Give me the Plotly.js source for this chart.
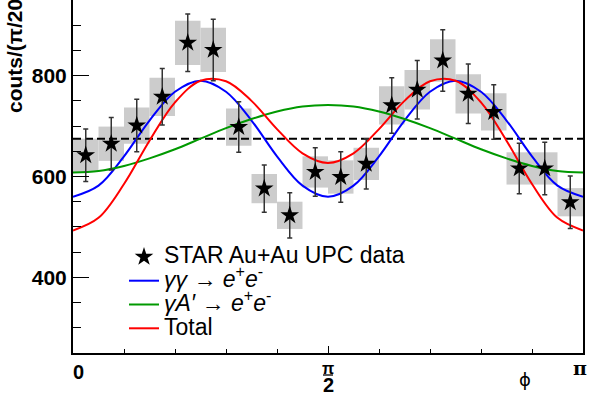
<!DOCTYPE html>
<html>
<head>
<meta charset="utf-8">
<script src="https://cdn.plot.ly/plotly-3.0.1.min.js"></script>
<style>
  html, body { margin: 0; padding: 0; background: #fff; }
  #chart { width: 589px; height: 402px; }
</style>
</head>
<body>
<div id="chart"></div>
<script>
// ---- data ----
const nBins = 20;
const binIndex = [0,1,2,3,4,5,6,7,8,9,10,11,12,13,14,15,16,17,18,19];
const counts   = [642,665,701,758,865,851,698,576,523,609,599,625,741,772,830,764,728,616,616,549];
const statErr  = [52,52,52,56,57,61,50,47,45,48,50,50,55,58,61,59,54,50,52,52];
const sysErr   = [33,34,36,38,44,44,37,29,27,31,33,32,38,39,42,39,37,32,32,28];

const gridIndex = [0,1,2,3,4,5,6,7,8,9,10,11,12,13,14,15,16,17,18,19,20];
const gammaGamma = [560,582,640,711,768,790,768,711,640,582,560,582,640,711,768,790,768,711,640,582,560];
const gammaAprime = [608,611,621,636,654,675,696,714,729,739,742,739,729,714,696,675,654,636,621,611,608];
const totalCurve = [493,518,585,671,747,790,789,750,694,646,627,646,694,750,789,790,747,671,585,518,493];
const flatLevel = [675, 675];
const flatEnds = [0, Math.PI];

const yTickLabels = ['400', '600', '800'];

// ---- derived positions through the axis scale ----
const binW = Math.PI / nBins;
const binCenters = binIndex.map(i => (i + 0.5) * binW);
const gridX = gridIndex.map(k => k * binW);
const boxBase = counts.map((c, i) => c - sysErr[i]);
const boxHeight = sysErr.map(s => 2 * s);

const FONT = 'Liberation Sans, Arial, Helvetica, sans-serif';

const traces = [
  {
    type: 'bar', x: binCenters, y: boxHeight, base: boxBase, width: binW,
    marker: { color: '#cccccc', line: { width: 0 } },
    showlegend: false, hoverinfo: 'skip'
  },
  {
    type: 'scatter', mode: 'lines', x: flatEnds, y: flatLevel,
    line: { color: '#000000', width: 2, dash: '8px,4px' },
    showlegend: false, hoverinfo: 'skip'
  },
  {
    type: 'scatter', mode: 'lines', x: gridX, y: gammaGamma,
    name: '<span style="font-size:23px"><i>γγ</i> → <i>e</i><sup>+</sup><i>e</i><sup>-</sup></span>',
    line: { color: '#0000ff', width: 2, shape: 'spline', smoothing: 1 },
    legendrank: 2
  },
  {
    type: 'scatter', mode: 'lines', x: gridX, y: gammaAprime,
    name: '<span style="font-size:23px"><i>γA′</i> → <i>e</i><sup>+</sup><i>e</i><sup>-</sup></span>',
    line: { color: '#009900', width: 2, shape: 'spline', smoothing: 1 },
    legendrank: 3
  },
  {
    type: 'scatter', mode: 'lines', x: gridX, y: totalCurve,
    name: '<span style="font-size:23px">Total</span>',
    line: { color: '#ff0000', width: 2, shape: 'spline', smoothing: 1 },
    legendrank: 4
  },
  {
    type: 'scatter', mode: 'markers', x: binCenters, y: counts,
    name: '<span style="font-size:23px">STAR Au+Au UPC data</span>',
    marker: { symbol: 'star', size: 14, color: '#000000', line: { width: 0 } },
    error_y: { type: 'data', array: statErr, visible: true, color: '#333333', thickness: 1.5, width: 2.5 },
    legendrank: 1
  }
];

const H = 353; // plot height in px (t=0, b=49)
const py = p => (H - p) / H;

const layout = {
  width: 589, height: 402,
  margin: { l: 73, r: 6, t: 0, b: 49 },
  paper_bgcolor: '#ffffff', plot_bgcolor: '#ffffff',
  font: { family: FONT, color: '#000000' },
  barmode: 'overlay',
  showlegend: true,
  legend: {
    x: (124 - 73) / 510, xanchor: 'left',
    y: py(240), yanchor: 'top',
    bgcolor: 'rgba(0,0,0,0)', borderwidth: 0,
    font: { family: FONT, size: 16, color: '#000000' },
    traceorder: 'normal'
  },
  xaxis: {
    range: [0, Math.PI], showgrid: false, zeroline: false,
    showline: true, linecolor: '#000000', linewidth: 2, mirror: true,
    ticks: 'inside', tickmode: 'array', tickvals: [0, Math.PI / 2, Math.PI],
    ticklen: 7, tickwidth: 1, tickcolor: '#000000',
    showticklabels: false,
    minor: { tickmode: 'array', tickvals: [1,2,3,4,6,7,8,9].map(k => k * Math.PI / 10), ticklen: 4.5, tickwidth: 1, tickcolor: '#000000', ticks: 'inside' }
  },
  yaxis: {
    range: [250, 950], showgrid: false, zeroline: false,
    showline: true, linecolor: '#000000', linewidth: 2, mirror: true,
    ticks: 'inside', tickmode: 'array', tickvals: [400, 600, 800], ticktext: yTickLabels,
    ticklen: 16, tickwidth: 1, tickcolor: '#000000',
    tickfont: { family: FONT, size: 21, weight: 'bold', color: '#000000' },
    minor: { dtick: 50, tick0: 0, ticklen: 8, tickwidth: 1, tickcolor: '#000000', ticks: 'inside' }
  },
  annotations: [
    { xref: 'x', yref: 'paper', x: 0, y: py(372), xshift: 5, text: '<b>0</b>', showarrow: false,
      font: { family: FONT, size: 20 }, xanchor: 'center', yanchor: 'middle' },
    { xref: 'x', yref: 'paper', x: Math.PI / 2, y: py(368), text: '<b>π</b>', showarrow: false,
      font: { family: FONT, size: 16 }, xanchor: 'center', yanchor: 'middle' },
    { xref: 'x', yref: 'paper', x: Math.PI / 2, y: py(385), text: '<b>2</b>', showarrow: false,
      font: { family: FONT, size: 20 }, xanchor: 'center', yanchor: 'middle' },
    { xref: 'x', yref: 'paper', x: Math.PI, y: py(368), xshift: -3, text: '<b>π</b>', showarrow: false,
      font: { family: 'DejaVu Serif, serif', size: 19 }, xanchor: 'center', yanchor: 'middle' },
    { xref: 'paper', yref: 'paper', x: (525 - 73) / 510, y: py(380), text: 'ϕ', showarrow: false,
      font: { family: 'DejaVu Sans, sans-serif', size: 18 }, xanchor: 'center', yanchor: 'middle' },
    { xref: 'paper', yref: 'paper', x: (15 - 73) / 510, y: py(53), text: '<b>couts/(π/20)</b>', showarrow: false,
      textangle: -90, font: { family: FONT, size: 21 }, xanchor: 'center', yanchor: 'middle' }
  ],
  shapes: [
    { type: 'line', xref: 'x', xsizemode: 'pixel', xanchor: Math.PI / 2, x0: -5, x1: 5,
      yref: 'paper', y0: py(375), y1: py(375), line: { color: '#000000', width: 1.3 } }
  ]
};

Plotly.newPlot('chart', traces, layout, { staticPlot: true, displayModeBar: false });
</script>
</body>
</html>
